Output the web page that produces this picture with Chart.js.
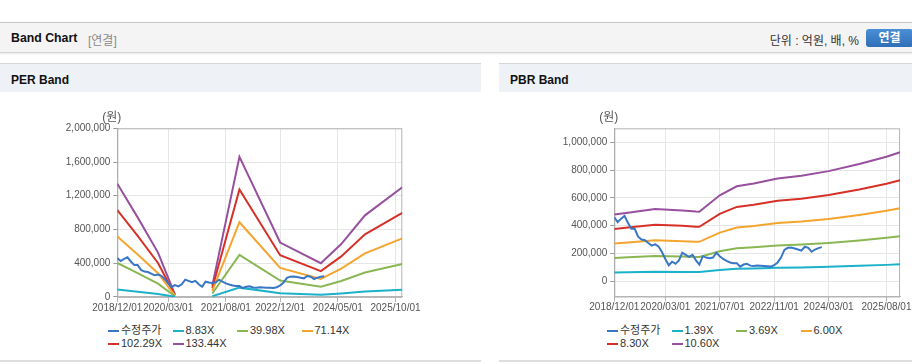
<!DOCTYPE html>
<html lang="ko">
<head>
<meta charset="utf-8">
<title>Band Chart</title>
<script src="https://cdn.jsdelivr.net/npm/chart.js@4"></script>
<style>
  body { margin: 0; width: 912px; height: 364px; background: #fff; overflow: hidden; position: relative;
         font-family: Arial, "Liberation Sans", "Noto Sans CJK KR", sans-serif; color: #222; }
  .hd { position: absolute; left: 0; top: 22px; width: 912px; height: 29px; background: #f4f4f4;
        border-top: 1px solid #c4c4c4; border-bottom: 1px solid #d4d4d4; box-shadow: 0 1px 2px rgba(0,0,0,.10); }
  .hd .ttl { position: absolute; left: 11px; top: 8px; font-weight: bold; font-size: 12.3px; color: #111; }
  .hd .cns { position: absolute; left: 88px; top: 8px; font-size: 12px; color: #8a8a8a; }
  .hd .unit { position: absolute; right: 53px; top: 8px; font-size: 12px; color: #333; }
  .hd .btn { position: absolute; left: 866px; top: 6px; width: 47px; height: 18px; line-height: 18px; border-radius: 3px;
             background: linear-gradient(#4b8fd6, #2f6fb8); color: #fff; font-weight: bold; font-size: 12px; text-align: center; }
  .pnl { position: absolute; top: 63px; height: 296px; border-top: 1px solid #d6d6d6; border-bottom: 2px solid #dedede; }
  .pnl .pt { height: 28px; background: #eef2f6; padding-left: 11px; font-weight: bold; font-size: 12px;
             line-height: 32px; color: #111; }
  canvas { position: absolute; }
  .lg { position: absolute; top: 324px; width: 262px; font-size: 11px; line-height: 13px; color: #333; }
  .lg span.it { display: inline-block; width: 64.5px; white-space: nowrap; }
  .lg i { display: inline-block; width: 11px; height: 2px; margin-right: 2px; vertical-align: middle; }
</style>
</head>
<body>
<div class="hd">
  <span class="ttl">Band Chart</span><span class="cns">[연결]</span>
  <span class="unit">단위 : 억원, 배, %</span><span class="btn">연결</span>
</div>
<div class="pnl" style="left:0;width:481px"><div class="pt">PER Band</div></div>
<div class="pnl" style="left:499px;width:413px"><div class="pt">PBR Band</div></div>

<canvas id="perChart" width="470" height="216" style="left:0;top:100px"></canvas>
<canvas id="pbrChart" width="413" height="216" style="left:499px;top:100px"></canvas>
<div class="lg" id="perLegend" style="left:108px"></div>
<div class="lg" id="pbrLegend" style="left:607px"></div>

<script>
// 수정주가 (월별, 원) 2018/12 부터
var priceValues = [460000, 425000, 450000, 470000, 420000, 377000, 377000, 320000, 300000, 295000,
  275000, 256000, 265000, 250000, 210000, 160000, 115000, 140000, 125000, 150000,
  205000, 190000, 175000, 190000, 150000, 120000, 180000, 170000, 165000, 170000,
  205000, 180000, 160000, 147000, 135000, 130000, 130000, 105000, 120000, 125000,
  112000, 110000, 113000, 112000, 110000, 108000, 105000, 115000, 135000, 170000,
  225000, 240000, 242000, 235000, 228000, 220000, 248000, 240000, 212000, 228000,
  238000, 245000];

// PER band
var perDates = ['2018/12', '2019/06', '2019/12', '2020/05', '2020/11', '2021/04', '2021/12', '2022/12', '2023/12', '2024/06', '2025/01', '2025/12'];
var perLabels = ['8.83X', '39.98X', '71.14X', '102.29X', '133.44X'];
var per1 = [88900, 62400, 34800, 1800, null, 8800, 109900, 42700, 26400, 41500, 64000, 86100];
var per2 = [402400, 282700, 157500, 8000, null, 40000, 497800, 193300, 119500, 187900, 289900, 389800];
var per3 = [716000, 503000, 280300, 14200, null, 71100, 885700, 343900, 212700, 334400, 515800, 693600];
var per4 = [1029500, 723200, 403000, 20500, null, 102300, 1273500, 494500, 305800, 480800, 741600, 997300];
var per5 = [1343100, 943400, 525800, 26700, null, 133400, 1661300, 645000, 399000, 627200, 967400, 1301000];
var perXTicks = ['2018/12/01', '2020/03/01', '2021/08/01', '2022/12/01', '2024/05/01', '2025/10/01'];
var perYTicks = [0, 400000, 800000, 1200000, 1600000, 2000000];

// PBR band
var pbrDates = ['2018/12', '2019/04', '2019/12', '2020/08', '2020/12', '2021/01', '2021/07', '2021/12', '2022/05', '2022/12', '2023/07', '2024/03', '2024/12', '2025/08', '2025/12'];
var pbrLabels = ['1.39X', '3.69X', '6.00X', '8.30X', '10.60X'];
var pbr1 = [63000, 64600, 68100, 66700, 65700, 65600, 81000, 89500, 92200, 96900, 99400, 103800, 110500, 117500, 121600];
var pbr2 = [167200, 171600, 180800, 177100, 174500, 174200, 215100, 237600, 244600, 257200, 263800, 275600, 293400, 311800, 322900];
var pbr3 = [271800, 279000, 294000, 288000, 283800, 283200, 349800, 386400, 397800, 418200, 429000, 448200, 477000, 507000, 525000];
var pbr4 = [376000, 386000, 406700, 398400, 392600, 391800, 483900, 534500, 550300, 578500, 593500, 620000, 659900, 701400, 726300];
var pbr5 = [480200, 492900, 519400, 508800, 501400, 500300, 618000, 682600, 702800, 738800, 757900, 791800, 842700, 895700, 927500];
var pbrXTicks = ['2018/12/01', '2020/03/01', '2021/07/01', '2022/11/01', '2024/03/01', '2025/08/01'];
var pbrYTicks = [0, 200000, 400000, 600000, 800000, 1000000];

var colors = ['#3a76c6', '#1bb1c9', '#8ab753', '#f4a52f', '#d63128', '#96509e'];
var tickFont = { family: 'Arial, "Liberation Sans", sans-serif', size: 10 };

// 2018/12 = 0 기준 개월 수
function monthIdx(s) {
  var p = s.split('/');
  return (Number(p[0]) - 2018) * 12 + Number(p[1]) - 12;
}

function lineSet(label, points, color) {
  return {
    label: label,
    data: points,
    borderColor: color,
    backgroundColor: color,
    borderWidth: 2,
    pointRadius: 0,
    pointHoverRadius: 0,
    tension: 0
  };
}

// 플롯 테두리 + (원) 단위
var frame = {
  id: 'frame',
  beforeDatasetsDraw: function (chart) {
    var a = chart.chartArea, ctx = chart.ctx;
    ctx.save();
    ctx.strokeStyle = '#b4b4b4';
    ctx.lineWidth = 1;
    ctx.strokeRect(a.left + 0.5, a.top + 0.5, a.right - a.left - 1, a.bottom - a.top);
    ctx.fillStyle = '#555';
    ctx.font = '12px Arial, "Noto Sans CJK KR", sans-serif';
    ctx.textAlign = 'center';
    ctx.textBaseline = 'middle';
    ctx.fillText('(원)', a.left - 5.5, a.top - 11);
    ctx.restore();
  }
};

function bandChart(id, legendId, dates, labels, bands, xTicks, yTicks, yMin, yMax, pad, yAxisWidth) {
  var datasets = [lineSet('수정주가', priceValues.map(function (v, i) { return { x: i, y: v }; }), colors[0])];
  bands.forEach(function (vals, k) {
    datasets.push(lineSet(labels[k], dates.map(function (d, i) { return { x: monthIdx(d), y: vals[i] }; }), colors[k + 1]));
  });
  var xVals = xTicks.map(function (t) { return monthIdx(t.slice(0, 7)); });

  var chart = new Chart(document.getElementById(id), {
    type: 'line',
    data: { datasets: datasets },
    options: {
      responsive: false,
      animation: false,
      events: [],
      layout: { padding: pad },
      scales: {
        x: {
          type: 'linear', min: 0, max: 84,
          afterBuildTicks: function (s) { s.ticks = xVals.map(function (v) { return { value: v }; }); },
          ticks: {
            autoSkip: false, maxRotation: 0, padding: 0, color: '#555', font: tickFont,
            callback: function (v) { return xTicks[xVals.indexOf(v)]; }
          },
          grid: { color: '#e6e6e6', tickLength: 5, tickColor: '#b4b4b4' },
          border: { color: '#b4b4b4' }
        },
        y: {
          min: yMin, max: yMax,
          afterBuildTicks: function (s) { s.ticks = yTicks.map(function (v) { return { value: v }; }); },
          afterFit: function (s) { s.width = yAxisWidth; },
          ticks: {
            padding: 3, color: '#555', font: tickFont,
            callback: function (v) { return v.toLocaleString('en-US'); }
          },
          grid: { color: '#e6e6e6', tickLength: 4, tickColor: '#999' },
          border: { color: '#999' }
        }
      },
      plugins: {
        legend: { display: false },
        tooltip: { enabled: false }
      }
    },
    plugins: [frame]
  });

  // html 범례
  var box = document.getElementById(legendId);
  chart.data.datasets.forEach(function (ds) {
    var it = document.createElement('span');
    it.className = 'it';
    it.innerHTML = '<i style="background:' + ds.borderColor + '"></i>' + ds.label;
    box.appendChild(it);
  });
  return chart;
}

bandChart('perChart', 'perLegend', perDates, perLabels, [per1, per2, per3, per4, per5],
  perXTicks, perYTicks, 0, 2000000, { left: 60, right: 67.7, top: 28.3, bottom: 2.1 }, 57.3);
bandChart('pbrChart', 'pbrLegend', pbrDates, pbrLabels, [pbr1, pbr2, pbr3, pbr4, pbr5],
  pbrXTicks, pbrYTicks, -110000, 1100000, { left: 58, right: 10.7, top: 28.3, bottom: 2.5 }, 57.3);
</script>
</body>
</html>
